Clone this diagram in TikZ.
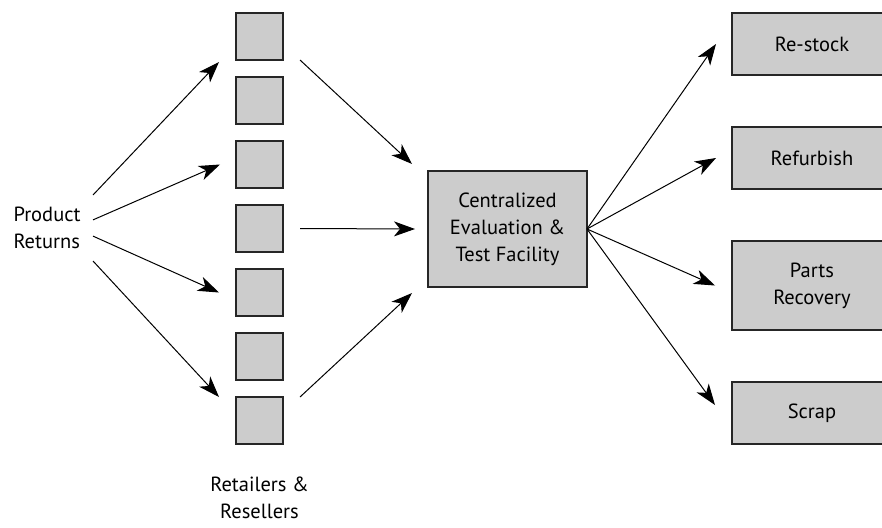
\documentclass[tikz,border=0pt]{standalone}
\usepackage{fontspec}
\setmainfont{PT Sans}
\usepackage{xcolor}
\usepackage{tikz}
\usetikzlibrary{positioning}
\usetikzlibrary{arrows.meta}
\tikzset{
	shop/.style={draw=black!85, fill=black!20, line width=1.1pt, outer sep=0pt, minimum size=47pt, inner sep=0pt},
	outlet/.style={draw=black!85, fill=black!20, line width=1.1pt, outer sep=0pt, minimum width=160pt, minimum height=62pt, align=center},
	flow/.style={line width=1pt, -{Stealth[length=21pt, width=15pt, inset=6pt]}}
}

\begin{document}
\begin{tikzpicture}[x=1pt, y=-1pt]
\fontsize{20.5}{27}\selectfont
\useasboundingbox (0,0) rectangle (882,527);
\node (pr) 
	[minimum width=92pt, minimum height=66pt, inner sep=0pt, outer sep=0pt, align=left] at (47,228)
	{Product\\Returns};

% retailers and resellers
\node (r1) [shop] at (259.5,36.5) {};
\node (r2) [shop, below=17pt of r1] {};
\node (r3) [shop, below=17pt of r2] {};
\node (r4) [shop, below=17pt of r3] {};
\node (r5) [shop, below=17pt of r4] {};
\node (r6) [shop, below=17pt of r5] {};
\node (r7) [shop, below=17pt of r6] {};
\node (tr) 
	[below=33pt of r7, align=center, inner sep=0pt]
	{Retailers \&\\Resellers};

\node (c) 
	[draw=black!85, fill=black!20, line width=1.1pt, outer sep=0pt, minimum width=159pt, minimum height=116pt, align=center] at (507.5,229)
	{Centralized\\Evaluation \&\\Test Facility};

% dispositions
\node (rs) [outlet] at (812,44) {Re-stock};
\node (rf) [outlet, below=52pt of rs] {Refurbish};
\node (pt) [outlet, below=52pt of rf, minimum height=89pt] {Parts\\Recovery};
\node (sc) [outlet, below=52pt of pt] {Scrap};

\draw [flow] (pr.north east) -- ([xshift=-17pt, yshift=-2pt]r1.south west);
\draw [flow] (pr.10) -- ([xshift=-16pt]r3.west);
\draw [flow] (pr.-10) -- ([xshift=-17pt]r5.west);
\draw [flow] (pr.south east) -- ([xshift=-17pt]r7.north west);

\draw [flow] ([xshift=17pt]r1.south east) -- ([shift={(-16pt,7pt)}]c.north west);
\draw [flow] ([xshift=17pt]r4.east) -- ([xshift=-13pt]c.west);
\draw [flow] ([xshift=17pt]r7.north east) -- ([shift={(-16pt,-6pt)}]c.south west);

\draw [flow] (c.east) -- ([xshift=-16pt]rs.west);
\draw [flow] (c.east) -- ([xshift=-16pt]rf.west);
\draw [flow] (c.east) -- ([xshift=-17pt]pt.west);
\draw [flow] (c.east) -- ([shift={(-17pt,8pt)}]sc.west);
\end{tikzpicture}
\end{document}
